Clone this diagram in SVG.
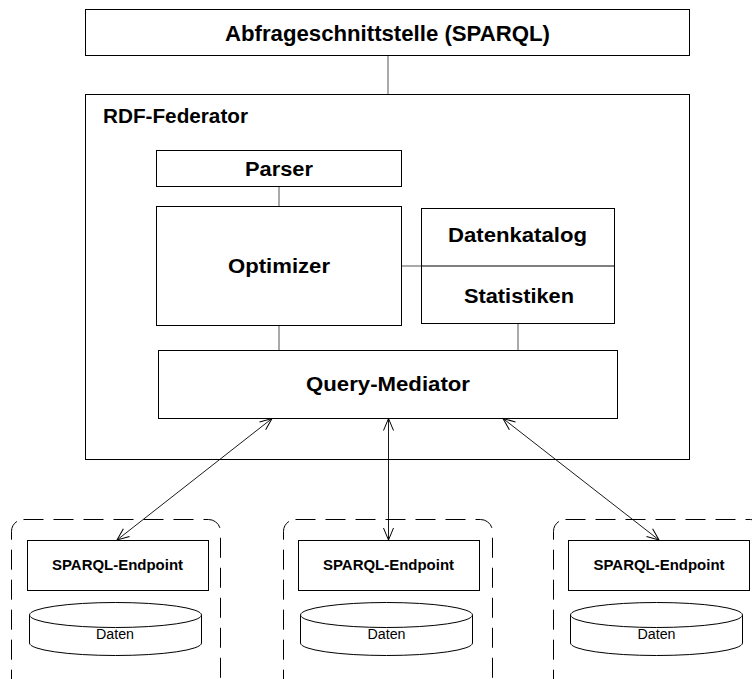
<svg xmlns="http://www.w3.org/2000/svg" width="752" height="679" viewBox="0 0 752 679">
  <style>
    .box { fill: #fff; stroke: #000; stroke-width: 1; }
    .frame { fill: none; stroke: #000; stroke-width: 1; }
    .dash { fill: none; stroke: #000; stroke-width: 1; stroke-dasharray: 20 10; }
    .link { fill: none; stroke: #555; stroke-width: 1; }
    .arrow { fill: none; stroke: #000; stroke-width: 0.9; marker-start: url(#head); marker-end: url(#head); }
    .t { font-family: "Liberation Sans", Arial, sans-serif; font-weight: bold; fill: #000; text-anchor: middle; }
    .title { font-size: 21.5px; }
    .big { font-size: 20px; }
    .small { font-size: 14px; }
    .plain { font-family: "Liberation Sans", Arial, sans-serif; font-size: 14px; fill: #000; text-anchor: middle; }
  </style>
  <defs>
    <marker id="head" viewBox="0 0 14 12" refX="13" refY="6" markerWidth="14" markerHeight="12" markerUnits="userSpaceOnUse" orient="auto-start-reverse">
      <path d="M1,1 L13,6 L1,11" fill="none" stroke="#000" stroke-width="1"/>
    </marker>
    <g id="db">
      <path d="M0,0 L0,28 A86,12.5 0 0 0 172,28 L172,0" class="box"/>
      <ellipse cx="86" cy="0" rx="86" ry="12.5" class="box"/>
    </g>
  </defs>

  <!-- connectors -->
  <g id="connectors">
    <line class="link" x1="388" y1="56" x2="388" y2="94"/>
    <line class="link" x1="279" y1="187" x2="279" y2="206"/>
    <line class="link" x1="402" y1="266" x2="421" y2="266"/>
    <line class="link" x1="279" y1="326" x2="279" y2="350"/>
    <line class="link" x1="518" y1="324" x2="518" y2="350"/>
  </g>

  <!-- query interface -->
  <g id="abfrage">
    <rect class="box" x="85.5" y="9.5" width="604" height="46"/>
    <text class="t title" x="387.5" y="40.5" textLength="325" lengthAdjust="spacingAndGlyphs">Abfrageschnittstelle (SPARQL)</text>
  </g>

  <!-- federator frame -->
  <g id="federator">
    <rect class="frame" x="85.5" y="94.5" width="604" height="365"/>
    <text class="t big" x="103" y="123" style="text-anchor:start" textLength="145" lengthAdjust="spacingAndGlyphs">RDF-Federator</text>
  </g>

  <g id="parser">
    <rect class="box" x="156.5" y="150.5" width="245" height="36"/>
    <text class="t big" x="279" y="176" textLength="68" lengthAdjust="spacingAndGlyphs">Parser</text>
  </g>

  <g id="optimizer">
    <rect class="box" x="156.5" y="206.5" width="245" height="119"/>
    <text class="t big" x="279" y="273" textLength="102" lengthAdjust="spacingAndGlyphs">Optimizer</text>
  </g>

  <g id="katalog">
    <rect class="box" x="421.5" y="208.5" width="193" height="115"/>
    <line class="frame" x1="421.5" y1="266" x2="614.5" y2="266"/>
    <text class="t big" x="517.5" y="241.5" textLength="139" lengthAdjust="spacingAndGlyphs">Datenkatalog</text>
    <text class="t big" x="519" y="302.5" textLength="110" lengthAdjust="spacingAndGlyphs">Statistiken</text>
  </g>

  <g id="mediator">
    <rect class="box" x="158.5" y="350.5" width="459" height="68"/>
    <text class="t big" x="388" y="391" textLength="164" lengthAdjust="spacingAndGlyphs">Query-Mediator</text>
  </g>

  <!-- data sources -->
  <g id="source1">
    <rect class="dash" x="11.5" y="519.5" width="209" height="175" rx="12"/>
    <rect class="box" x="27.5" y="540.5" width="181" height="50"/>
    <text class="t small" x="117.5" y="569.5" textLength="131" lengthAdjust="spacingAndGlyphs">SPARQL-Endpoint</text>
    <use href="#db" x="29.5" y="615"/>
    <text class="plain" x="115" y="639" textLength="38" lengthAdjust="spacingAndGlyphs">Daten</text>
  </g>

  <g id="source2">
    <rect class="dash" x="283.5" y="519.5" width="209" height="175" rx="12"/>
    <rect class="box" x="298.5" y="540.5" width="181" height="50"/>
    <text class="t small" x="388.5" y="569.5" textLength="131" lengthAdjust="spacingAndGlyphs">SPARQL-Endpoint</text>
    <use href="#db" x="300.5" y="615"/>
    <text class="plain" x="386.5" y="639" textLength="38" lengthAdjust="spacingAndGlyphs">Daten</text>
  </g>

  <g id="source3">
    <rect class="dash" x="553.5" y="519.5" width="209" height="175" rx="12"/>
    <rect class="box" x="568.5" y="540.5" width="181" height="50"/>
    <text class="t small" x="659" y="569.5" textLength="131" lengthAdjust="spacingAndGlyphs">SPARQL-Endpoint</text>
    <use href="#db" x="570.5" y="615"/>
    <text class="plain" x="656.5" y="639" textLength="38" lengthAdjust="spacingAndGlyphs">Daten</text>
  </g>

  <!-- request/response arrows -->
  <g id="arrows">
    <line class="arrow" x1="272" y1="418.5" x2="117" y2="540"/>
    <line class="arrow" x1="388.5" y1="418.5" x2="388.5" y2="540"/>
    <line class="arrow" x1="503" y1="418.5" x2="659" y2="540"/>
  </g>
</svg>
